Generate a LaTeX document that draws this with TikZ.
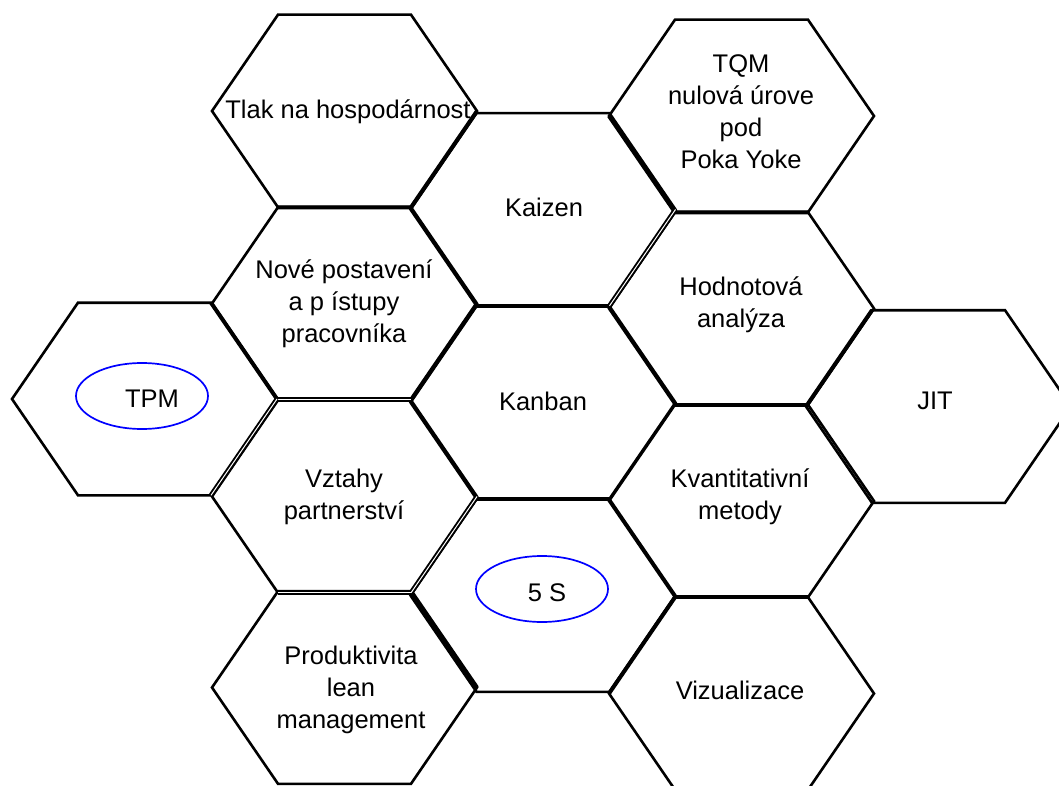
\documentclass[tikz,border=0pt]{standalone}
\usepackage{fontspec}
\setmainfont{Liberation Sans}
\newcommand\hexat[3]{%
  \coordinate (#1-l)  at ({#2-132.5},#3);
  \coordinate (#1-tl) at ({#2-66.5},{#3-96.3});
  \coordinate (#1-tr) at ({#2+66.5},{#3-96.3});
  \coordinate (#1-r)  at ({#2+132.5},#3);
  \coordinate (#1-br) at ({#2+66.5},{#3+96.3});
  \coordinate (#1-bl) at ({#2-66.5},{#3+96.3});
  \draw[hexline] (#1-l) -- (#1-tl) -- (#1-tr) -- (#1-r) -- (#1-br) -- (#1-bl) -- cycle;}
\begin{document}
\begin{tikzpicture}[x=1pt,y=-1pt,
  hexline/.style={line width=2.6pt, line join=miter},
  thickedge/.style={line width=4pt},
  dbledge/.style={draw=black, line width=1.9pt, double=white, double distance=1pt},
  lbl/.style={font=\fontsize{25.5}{32}\selectfont, align=center, inner sep=0pt},
  oval/.style={draw=blue, line width=1.7pt}]
\useasboundingbox (0,0) rectangle (1059,786);
\fill[white] (0,0) rectangle (1059,786);
\clip (0,0) rectangle (1059,786);
% column 1
\hexat{tpm}{144.5}{399}
% column 2
\hexat{tlak}{344.5}{111}
\hexat{nove}{344.5}{303.5}
\hexat{vztahy}{344.5}{496.5}
\hexat{prod}{344.5}{687.5}
% column 3
\hexat{kaizen}{543}{209.5}
\hexat{kanban}{543}{402.5}
\hexat{fives}{543}{595.5}
% column 4
\hexat{tqm}{741.5}{116}
\hexat{hodn}{741.5}{308.5}
\hexat{kvant}{741.5}{501}
\hexat{viz}{741.5}{693.5}
% column 5
\hexat{jit}{938.5}{406.5}
% heavier shared edges
\draw[thickedge] (tlak-bl) -- (tlak-br) -- (tlak-r);
\draw[thickedge] (tpm-tr) -- (tpm-r);
\draw[thickedge] (nove-br) -- (nove-r);
\draw[thickedge] (prod-tr) -- (prod-r);
\draw[thickedge] (kaizen-bl) -- (kaizen-br);
\draw[thickedge] (tqm-l) -- (tqm-bl) -- (tqm-br);
\draw[thickedge] (kanban-bl) -- (kanban-br);
\draw[thickedge] (hodn-bl) -- (hodn-br);
\draw[thickedge] (jit-l) -- (jit-tl);
\draw[thickedge] (kvant-bl) -- (kvant-br);
\draw[thickedge] (viz-l) -- (viz-tl);
\draw[dbledge] (nove-bl) -- (nove-br);
\draw[dbledge] (tpm-r) -- (tpm-br);
\draw[dbledge] (vztahy-r) -- (vztahy-br);
\draw[dbledge] (vztahy-bl) -- (vztahy-br);
\draw[dbledge] (kaizen-br) -- (kaizen-r);
% ovals
\draw[oval] (142,396) ellipse [x radius=66, y radius=33];
\draw[oval] (542,589) ellipse [x radius=66, y radius=33];
% labels
\node[lbl] (tpmtext) at (152,399) {TPM};
\node[lbl] (tlaktext) at (348,112) {Tlak na hospodárnost};
\node[lbl] (novetext) at (344,304) {Nové postavení\\a p ístupy\\pracovníka};
\node[lbl] (vztahytext) at (344,497) {Vztahy\\partnerství};
\node[lbl] (prodtext) at (351,690) {Produktivita\\lean\\management};
\node[lbl] (kaizentext) at (544,207) {Kaizen};
\node[lbl] (kanbantext) at (543,401) {Kanban};
\node[lbl] (fivestext) at (547,593) {5 S};
\node[lbl] (tqmtext) at (741,112) {TQM\\nulová úrove\\pod\\ Poka Yoke};
\node[lbl] (hodntext) at (741,305) {Hodnotová\\analýza};
\node[lbl] (kvanttext) at (740,497) {Kvantitativní\\metody};
\node[lbl] (viztext) at (740,690) {Vizualizace};
\node[lbl] (jittext) at (935,401) {JIT};
\end{tikzpicture}
\end{document}
